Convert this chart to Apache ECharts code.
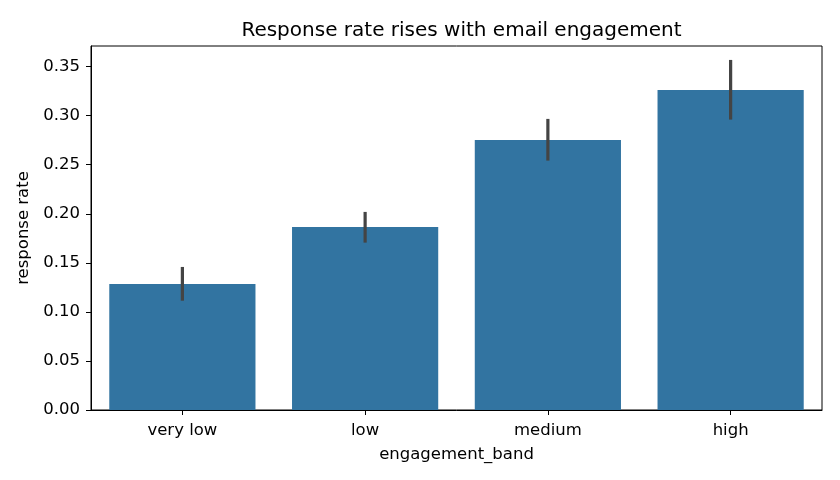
<!DOCTYPE html>
<html><head><meta charset="utf-8">
<script src="https://cdn.jsdelivr.net/npm/echarts@6/dist/echarts.min.js"></script>
<style>html,body{margin:0;padding:0;background:#fff}#c{width:840px;height:480px}</style>
</head><body><div id="c"></div>
<script>
const categories = ['very low', 'low', 'medium', 'high'];
const responseRate = [0.1285, 0.1866, 0.2753, 0.3262];
const ciLow = [0.1114, 0.1706, 0.2542, 0.2960];
const ciHigh = [0.1458, 0.2019, 0.2967, 0.3568];
const yTicks = [0, 0.05, 0.10, 0.15, 0.20, 0.25, 0.30, 0.35];

const chart = echarts.init(document.getElementById('c'), null, {renderer: 'canvas'});
const font = 'DejaVu Sans';
const errData = categories.map((c, i) => [i, ciLow[i], ciHigh[i]]);
chart.setOption({
  animation: false,
  backgroundColor: '#fff',
  title: {
    text: 'Response rate rises with email engagement',
    left: 456.5, top: 16, textAlign: 'center',
    textStyle: {fontFamily: font, fontSize: 20, fontWeight: 'normal', color: '#000'}
  },
  grid: {left: 91, right: 18, top: 46, bottom: 70, show: true, borderColor: '#000', borderWidth: 1, backgroundColor: 'transparent'},
  xAxis: {
    type: 'category', data: categories,
    name: 'engagement_band', nameLocation: 'middle', nameGap: 36,
    nameTextStyle: {fontFamily: font, fontSize: 16.5, color: '#000'},
    axisLine: {show: true, lineStyle: {color: '#000', width: 1}},
    axisTick: {show: true, alignWithLabel: true, length: 5, lineStyle: {color: '#000'}},
    axisLabel: {fontFamily: font, fontSize: 16.5, color: '#000', margin: 12},
    splitLine: {show: false}
  },
  yAxis: {
    type: 'value', min: 0, max: 0.371, interval: 0.05,
    name: 'response rate', nameLocation: 'middle', nameGap: 58,
    nameTextStyle: {fontFamily: font, fontSize: 16.5, color: '#000'},
    axisLine: {show: true, lineStyle: {color: '#000', width: 1}},
    axisTick: {show: true, length: 5, lineStyle: {color: '#000'}},
    axisLabel: {fontFamily: font, fontSize: 16.5, color: '#000', margin: 11, showMaxLabel: false,
      formatter: v => yTicks.some(t => Math.abs(t - v) < 1e-9) ? v.toFixed(2) : ''},
    splitLine: {show: false}
  },
  series: [
    {type: 'bar', data: responseRate, barWidth: '80%', itemStyle: {color: '#3274a1'}, z: 2},
    {type: 'custom', data: errData, z: 3,
      renderItem: (params, api) => {
        const x = api.value(0);
        const p1 = api.coord([x, api.value(1)]);
        const p2 = api.coord([x, api.value(2)]);
        return {type: 'line', shape: {x1: p1[0], y1: p1[1], x2: p2[0], y2: p2[1]},
          style: {stroke: '#444444', lineWidth: 3.2}};
      }}
  ]
});
</script></body></html>
